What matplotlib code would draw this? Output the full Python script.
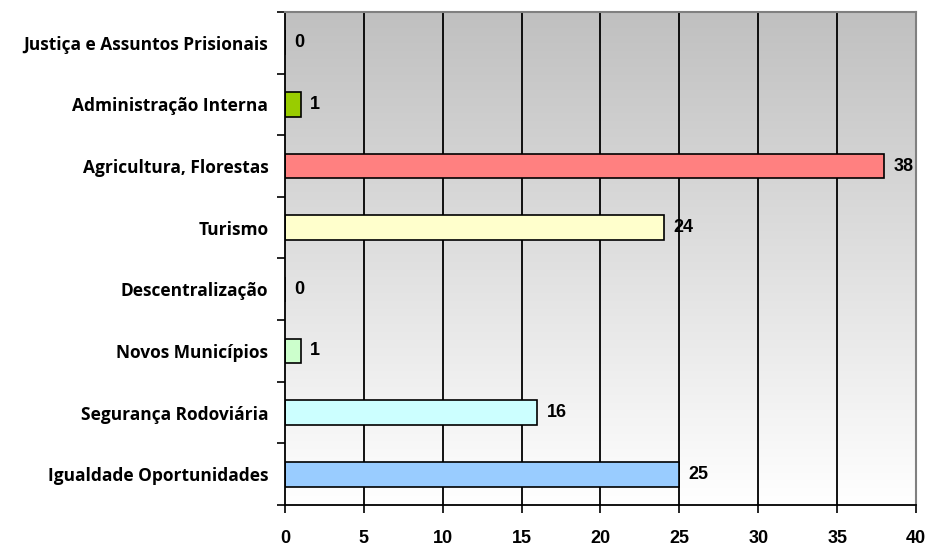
import numpy as np
import matplotlib.pyplot as plt
from matplotlib.colors import LinearSegmentedColormap

categories = ["Igualdade Oportunidades", "Segurança Rodoviária", "Novos Municípios",
              "Descentralização", "Turismo", "Agricultura, Florestas",
              "Administração Interna", "Justiça e Assuntos Prisionais"]
values = [25, 16, 1, 0, 24, 38, 1, 0]
colors = ["#99ccff", "#ccffff", "#ccffcc", "#ffffff", "#ffffcc", "#ff8080", "#99cc00", "#ffffff"]

fig = plt.figure(figsize=(9.31, 5.47), dpi=100)
ax = fig.add_axes([0.3061, 0.0768, 0.6778, 0.9013])

# gradient background: gray at top, white at bottom
grad = np.linspace(0, 1, 256).reshape(-1, 1)
cmap = LinearSegmentedColormap.from_list("g", ["#ffffff", "#c0c0c0"])
ax.imshow(grad, extent=[0, 40, -0.5, 7.5], aspect="auto", cmap=cmap,
          origin="lower", zorder=0)

y = np.arange(len(categories))
for xv in range(5, 40, 5):
    ax.axvline(xv, color="black", lw=1.3, zorder=1)

ax.barh(y, values, height=0.4, color=colors, edgecolor="black", lw=1.2, zorder=2)
for i, v in enumerate(values):
    ax.text(v + 0.6, i, str(v), va="center", ha="left", fontsize=13,
            fontweight="bold", family="Liberation Sans", zorder=3)

ax.set_xlim(0, 40)
ax.set_ylim(-0.5, 7.5)
ax.set_xticks(range(0, 41, 5))
ax.set_yticks(np.arange(-0.5, 8, 1))
ax.set_yticklabels([])
ax.set_yticks(y, minor=True)
ax.set_yticklabels(categories, minor=True)
ax.tick_params(axis="y", which="minor", length=0, pad=12, labelsize=12.5)
ax.tick_params(axis="y", which="major", length=6, width=1.2)
ax.tick_params(axis="x", length=6, width=1.2, pad=12, labelsize=13)
for lab in ax.get_yticklabels(minor=True):
    lab.set_fontweight("bold")
    lab.set_family("Open Sans")
for lab in ax.get_xticklabels():
    lab.set_fontweight("bold")
    lab.set_family("Liberation Sans")

ax.spines["left"].set_linewidth(1.3)
ax.spines["bottom"].set_linewidth(1.3)
ax.spines["top"].set_color("#808080")
ax.spines["right"].set_color("#808080")
ax.spines["top"].set_linewidth(1.5)
ax.spines["right"].set_linewidth(1.5)

plt.savefig("out.png", dpi=100)
